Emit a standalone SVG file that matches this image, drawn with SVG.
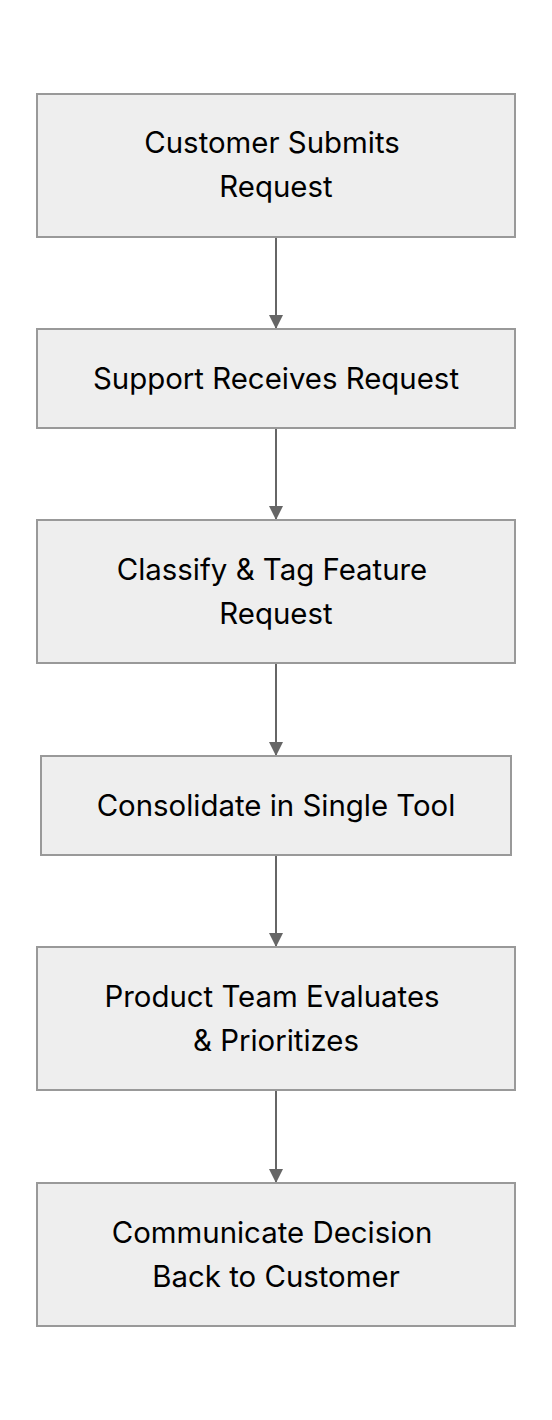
<svg xmlns="http://www.w3.org/2000/svg" width="552" height="1420" viewBox="0 0 552 1420">
<style>
.box{fill:#eeeeee;stroke:#999999;stroke-width:2}
.lbl{font-family:Inter,"Liberation Sans",sans-serif;font-size:29.4px;fill:#000;text-anchor:middle}
.edge{stroke:#666666;stroke-width:2;fill:none}
</style>
<defs>
<marker id="arr" markerWidth="14" markerHeight="14" refX="14" refY="7" orient="auto" markerUnits="userSpaceOnUse">
<path d="M0,0 L14,7 L0,14 Z" fill="#666666"/>
</marker>
</defs>
<rect width="552" height="1420" fill="#ffffff"/>
<g id="edges">
<line class="edge" x1="276" y1="237" x2="276" y2="329" marker-end="url(#arr)"/>
<line class="edge" x1="276" y1="428" x2="276" y2="520" marker-end="url(#arr)"/>
<line class="edge" x1="276" y1="663" x2="276" y2="756" marker-end="url(#arr)"/>
<line class="edge" x1="276" y1="855" x2="276" y2="947" marker-end="url(#arr)"/>
<line class="edge" x1="276" y1="1090" x2="276" y2="1183" marker-end="url(#arr)"/>
</g>
<g id="n1"><rect class="box" x="37" y="94" width="478" height="143"/><text class="lbl" x="272" y="153">Customer Submits</text><text class="lbl" x="276" y="197">Request</text></g>
<g id="n2"><rect class="box" x="37" y="329" width="478" height="99"/><text class="lbl" x="276" y="389">Support Receives Request</text></g>
<g id="n3"><rect class="box" x="37" y="520" width="478" height="143"/><text class="lbl" x="272" y="580">Classify &amp; Tag Feature</text><text class="lbl" x="276" y="624">Request</text></g>
<g id="n4"><rect class="box" x="41" y="756" width="470" height="99"/><text class="lbl" x="276" y="816">Consolidate in Single Tool</text></g>
<g id="n5"><rect class="box" x="37" y="947" width="478" height="143"/><text class="lbl" x="272" y="1007">Product Team Evaluates</text><text class="lbl" x="276" y="1051">&amp; Prioritizes</text></g>
<g id="n6"><rect class="box" x="37" y="1183" width="478" height="143"/><text class="lbl" x="272" y="1243">Communicate Decision</text><text class="lbl" x="276" y="1287">Back to Customer</text></g>
</svg>
